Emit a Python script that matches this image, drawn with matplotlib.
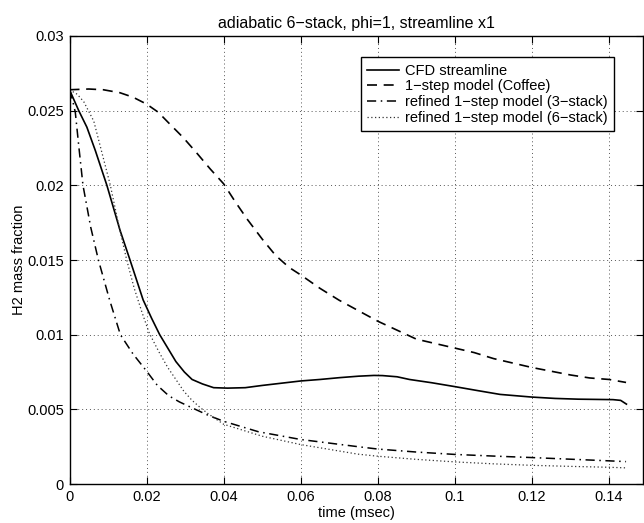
import matplotlib
matplotlib.use("Agg")
import matplotlib.pyplot as plt

plt.rcParams['font.family'] = ['Liberation Sans', 'DejaVu Sans']

# CFD streamline
t_cfd = [0.0, 0.0024, 0.0045, 0.0067, 0.0097, 0.0131, 0.0157, 0.0191, 0.0213, 0.0234,
         0.0255, 0.0276, 0.0298, 0.0318, 0.0345, 0.0374, 0.041, 0.0456, 0.050, 0.055,
         0.060, 0.065, 0.070, 0.075, 0.079, 0.0812, 0.085, 0.0882, 0.094, 0.100, 0.106,
         0.1117, 0.120, 0.126, 0.132, 0.138, 0.141, 0.143, 0.1445]
y_cfd = [0.0264, 0.0250, 0.0239, 0.02233, 0.0200, 0.0170, 0.0150, 0.01233, 0.0111, 0.0100,
         0.0091, 0.0082, 0.0075, 0.0070, 0.0067, 0.00645, 0.00642, 0.00645, 0.0066, 0.00675,
         0.0069, 0.0070, 0.00712, 0.00722, 0.00727, 0.00726, 0.00718, 0.0070, 0.00678, 0.00652,
         0.00625, 0.0060, 0.00582, 0.00573, 0.00568, 0.00566, 0.00565, 0.0056, 0.00535]

# 1-step model (Coffee)
t_coffee = [0.0, 0.005, 0.0088, 0.0131, 0.0165, 0.020, 0.023, 0.026, 0.0295, 0.0329,
            0.0365, 0.040, 0.043, 0.0462, 0.050, 0.0535, 0.057, 0.060, 0.065, 0.070,
            0.075, 0.080, 0.085, 0.090, 0.095, 0.100, 0.105, 0.110, 0.115, 0.120,
            0.125, 0.130, 0.135, 0.140, 0.1444]
y_coffee = [0.0264, 0.02645, 0.0264, 0.0262, 0.0259, 0.02544, 0.0249, 0.02411, 0.0232, 0.0222,
            0.0211, 0.0201, 0.0189, 0.0177, 0.0164, 0.0153, 0.0145, 0.0140, 0.0131, 0.0123,
            0.0116, 0.0109, 0.0103, 0.0097, 0.0094, 0.0091, 0.0088, 0.0084, 0.0081, 0.0078,
            0.00755, 0.0073, 0.0071, 0.0070, 0.0068]

# refined 1-step model (3-stack)
t_3stack = [0.0, 0.0008, 0.0015, 0.0025, 0.0035, 0.0055, 0.0075, 0.0104, 0.0132, 0.0165,
            0.020, 0.0228, 0.0258, 0.0285, 0.0318, 0.036, 0.040, 0.049, 0.060, 0.0748,
            0.080, 0.090, 0.100, 0.110, 0.120, 0.130, 0.140, 0.1444]
y_3stack = [0.0264, 0.0257, 0.0249, 0.0224, 0.0200, 0.0172, 0.0150, 0.01233, 0.0100, 0.0087,
            0.00756, 0.0066, 0.0059, 0.0055, 0.0051, 0.0046, 0.0042, 0.0035, 0.00298, 0.0025,
            0.00234, 0.00214, 0.00198, 0.00187, 0.00177, 0.00166, 0.00155, 0.0015]

# refined 1-step model (6-stack)
t_6stack = [0.0, 0.002, 0.0037, 0.0063, 0.008, 0.0106, 0.0128, 0.01485, 0.0168, 0.0188,
            0.0207, 0.0233, 0.0255, 0.0276, 0.0297, 0.0318, 0.034, 0.036, 0.040, 0.050,
            0.060, 0.0748, 0.080, 0.090, 0.100, 0.110, 0.120, 0.130, 0.140, 0.1444]
y_6stack = [0.0264, 0.0261, 0.0256, 0.0243, 0.0226, 0.0200, 0.0173, 0.0150, 0.0131, 0.0115,
            0.0101, 0.0088, 0.0078, 0.0070, 0.0062, 0.0056, 0.0051, 0.0047, 0.0040, 0.0032,
            0.00264, 0.0020, 0.00186, 0.00165, 0.00148, 0.00135, 0.00125, 0.00118, 0.00112, 0.00108]

x_ticks = [0, 0.02, 0.04, 0.06, 0.08, 0.1, 0.12, 0.14]
x_tick_labels = ['0', '0.02', '0.04', '0.06', '0.08', '0.1', '0.12', '0.14']
y_ticks = [0, 0.005, 0.01, 0.015, 0.02, 0.025, 0.03]
y_tick_labels = ['0', '0.005', '0.01', '0.015', '0.02', '0.025', '0.03']

series_labels = ['CFD streamline', '1\u2212step model (Coffee)',
                 'refined 1\u2212step model (3\u2212stack)',
                 'refined 1\u2212step model (6\u2212stack)']

fig = plt.figure(figsize=(6.44, 5.23), dpi=100)
ax = fig.add_axes([69.5 / 644, 1 - 484 / 523, 573.5 / 644, 448 / 523])

ax.plot(t_cfd, y_cfd, color='black', lw=1.2, linestyle='-', label=series_labels[0])
ax.plot(t_coffee, y_coffee, color='black', lw=1.2, linestyle=(0, (6, 4)), label=series_labels[1])
ax.plot(t_3stack, y_3stack, color='black', lw=1.1, linestyle=(0, (6, 3, 1, 3)), label=series_labels[2])
ax.plot(t_6stack, y_6stack, color='#333333', lw=0.9, linestyle=(0, (1, 2)), label=series_labels[3])

ax.set_xlim(0, 0.1488)
ax.set_ylim(0, 0.03)
ax.set_xticks(x_ticks)
ax.set_xticklabels(x_tick_labels)
ax.set_yticks(y_ticks)
ax.set_yticklabels(y_tick_labels)

ax.tick_params(direction='in', length=5, width=0.8, top=True, right=True,
               labelsize=10.5, pad=4)
for s in ax.spines.values():
    s.set_linewidth(1.0)
    s.set_color('black')

ax.grid(True, color='#555555', linestyle=(0, (1, 3)), linewidth=0.7)

ax.set_title('adiabatic 6\u2212stack, phi=1, streamline x1', fontsize=11.5, pad=6)
ax.set_xlabel('time (msec)', fontsize=10.5, labelpad=2)
ax.set_ylabel('H2 mass fraction', fontsize=10.5, labelpad=1)

leg = ax.legend(loc='upper right', bbox_to_anchor=(0.949, 0.953), borderaxespad=0,
                fontsize=10.5, fancybox=False, framealpha=1, edgecolor='black',
                handlelength=2.2, handletextpad=0.35, labelspacing=0.12, borderpad=0.45)
leg.get_frame().set_linewidth(1.0)

fig.savefig('out.png', dpi=100)
